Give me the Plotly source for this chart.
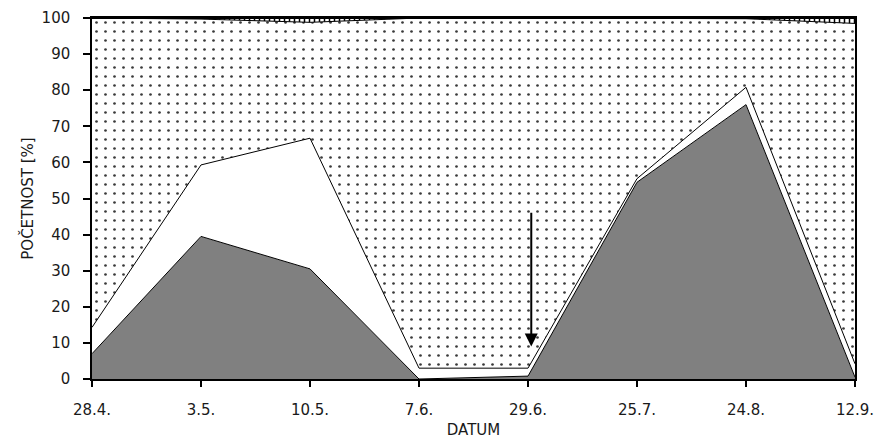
import plotly.graph_objects as go

categories = ["28.4.", "3.5.", "10.5.", "7.6.", "29.6.", "25.7.", "24.8.", "12.9."]
gray_vals = [7.0, 39.5, 30.5, 0.0, 0.8, 54.5, 76.0, 0.5]
white_vals = [7.3, 19.8, 36.2, 3.0, 2.2, 1.0, 4.8, 3.7]
dotted_vals = [85.7, 40.4, 32.1, 97.0, 97.0, 44.5, 19.0, 94.3]
hatch_vals = [0.0, 0.3, 1.2, 0.0, 0.0, 0.0, 0.2, 1.5]
y_ticks = list(range(0, 101, 10))

x_idx = list(range(len(categories)))

fig = go.Figure()
fig.add_trace(go.Scatter(
    x=x_idx, y=gray_vals, stackgroup="s", mode="lines",
    line=dict(color="black", width=1), fillcolor="#808080", name="A"))
fig.add_trace(go.Scatter(
    x=x_idx, y=white_vals, stackgroup="s", mode="lines",
    line=dict(color="black", width=1), fillcolor="white", name="B"))
fig.add_trace(go.Scatter(
    x=x_idx, y=dotted_vals, stackgroup="s", mode="lines",
    line=dict(color="black", width=1), fillcolor="white",
    fillpattern=dict(shape=".", bgcolor="white", fgcolor="#3a3a3a",
                     size=9, solidity=0.07, fillmode="replace"),
    name="C"))
fig.add_trace(go.Scatter(
    x=x_idx, y=hatch_vals, stackgroup="s", mode="lines",
    line=dict(color="black", width=2), fillcolor="white",
    fillpattern=dict(shape="|", bgcolor="white", fgcolor="black",
                     size=5, solidity=0.3, fillmode="replace"),
    name="D"))

fig.add_annotation(
    x=4.03, y=9.0, ax=4.03, ay=46.5, xref="x", yref="y", axref="x", ayref="y",
    text="", showarrow=True, arrowhead=2, arrowsize=1.3, arrowwidth=2,
    arrowcolor="black")

font = dict(family="DejaVu Sans, sans-serif", color="#1a1a1a", size=15)

fig.update_layout(
    width=879, height=439,
    margin=dict(l=92, r=24, t=18, b=60),
    paper_bgcolor="white", plot_bgcolor="white",
    showlegend=False, font=font,
    xaxis=dict(
        range=[0, len(categories) - 1], tickmode="array", tickvals=x_idx,
        ticktext=categories, ticks="outside", ticklen=6, tickcolor="black",
        tickwidth=1.5, automargin=False,
        showline=True, linecolor="black", linewidth=1.5, mirror=True,
        showgrid=False, zeroline=False, ticklabelstandoff=10,
        title=dict(text="DATUM", font=dict(size=15), standoff=9)),
    yaxis=dict(
        range=[0, 100], tickmode="array", tickvals=y_ticks,
        ticks="outside", ticklen=7, tickcolor="black", tickwidth=1.5,
        automargin=False,
        showline=True, linecolor="black", linewidth=1.5, mirror=True,
        showgrid=False, zeroline=False, ticklabelstandoff=10,
        title=dict(text="POČETNOST [%]", font=dict(size=15), standoff=4)),
)

fig.write_html("out.html")
